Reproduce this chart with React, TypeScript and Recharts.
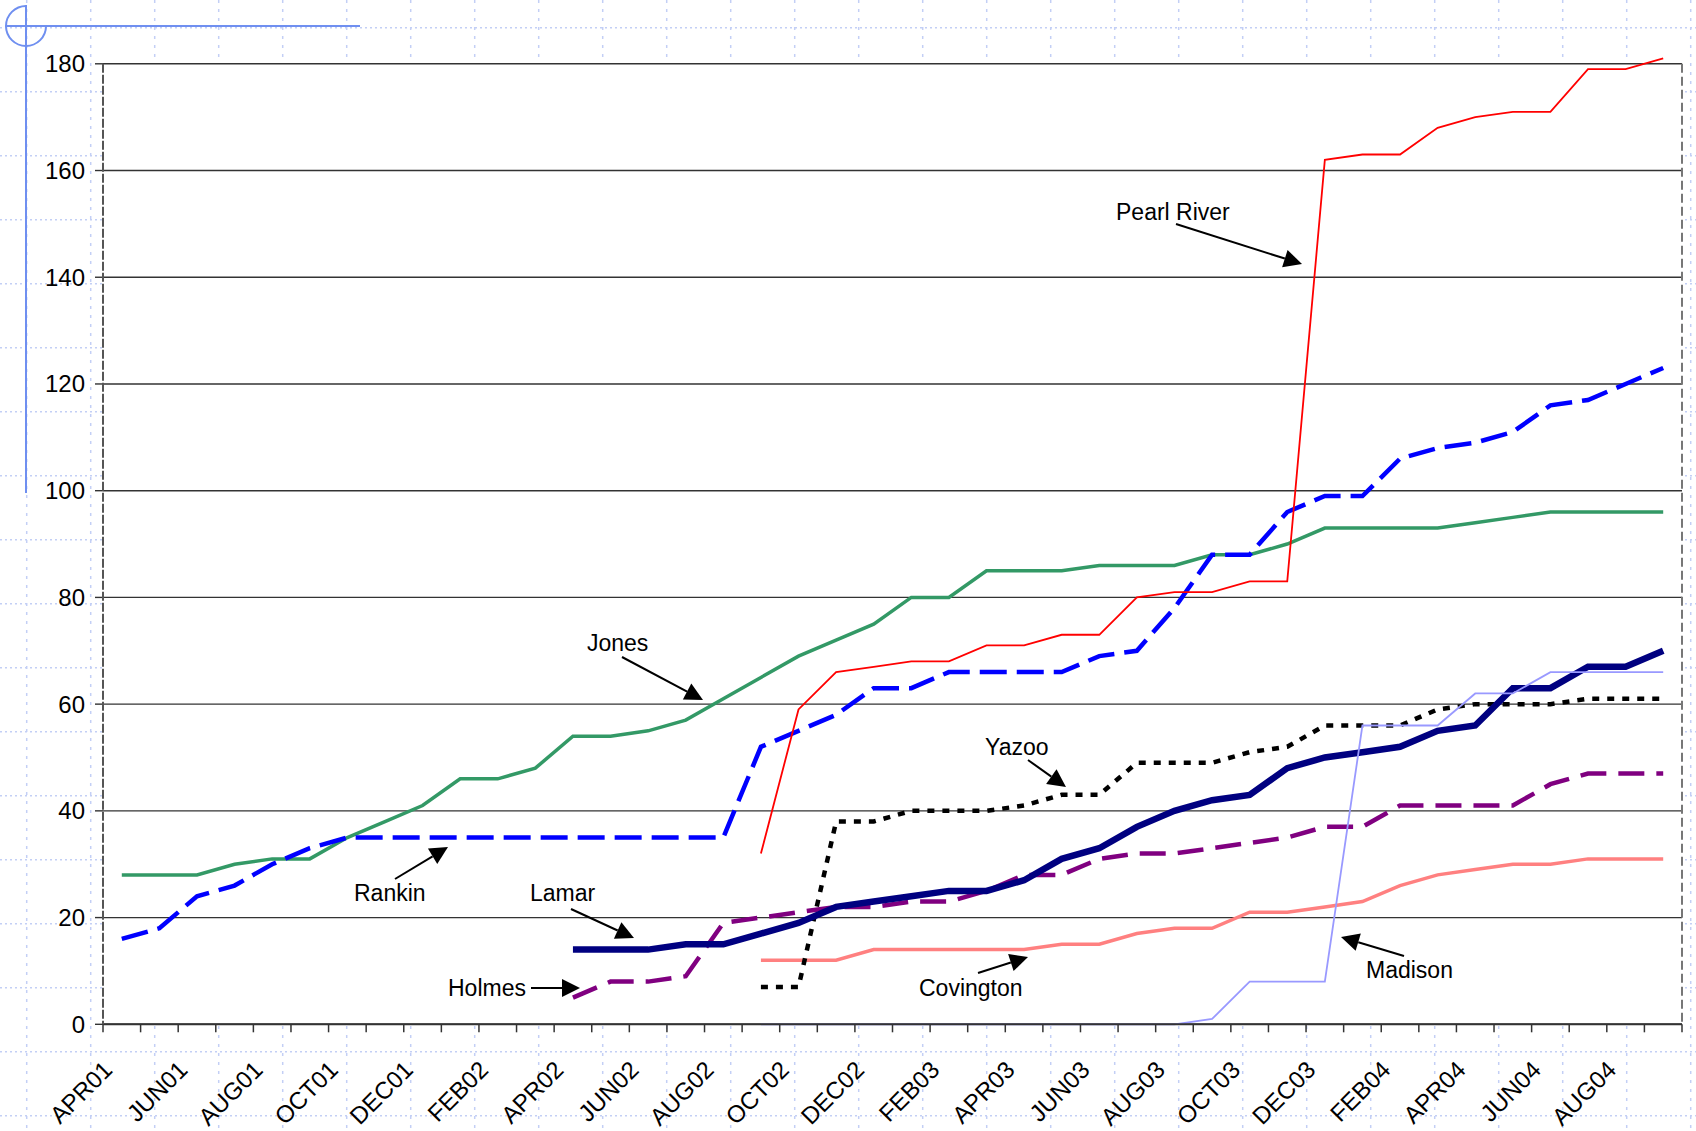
import { CartesianGrid, Line, LineChart, XAxis, YAxis } from "recharts";

const months = [
  "APR01", "MAY01", "JUN01", "JUL01", "AUG01", "SEP01", "OCT01", "NOV01", "DEC01",
  "JAN02", "FEB02", "MAR02", "APR02", "MAY02", "JUN02", "JUL02", "AUG02", "SEP02",
  "OCT02", "NOV02", "DEC02", "JAN03", "FEB03", "MAR03", "APR03", "MAY03", "JUN03",
  "JUL03", "AUG03", "SEP03", "OCT03", "NOV03", "DEC03", "JAN04", "FEB04", "MAR04",
  "APR04", "MAY04", "JUN04", "JUL04", "AUG04", "SEP04",
];

// series start at the month given
const jones = [28, 28, 28, 30, 31, 31, 35, 38, 41, 46, 46, 48, 54, 54, 55, 57, 61, 65, 69, 72, 75, 80, 80, 85, 85, 85, 86, 86, 86, 88, 88, 90, 93, 93, 93, 93, 94, 95, 96, 96, 96, 96];
const rankin = [16, 18, 24, 26, 30, 33, 35, 35, 35, 35, 35, 35, 35, 35, 35, 35, 35, 52, 55, 58, 63, 63, 66, 66, 66, 66, 69, 70, 78, 88, 88, 96, 99, 99, 106, 108, 109, 111, 116, 117, 120, 123];
const pearlRiver = [32, 59, 66, 67, 68, 68, 71, 71, 73, 73, 80, 81, 81, 83, 83, 162, 163, 163, 168, 170, 171, 171, 179, 179, 181];
const lamar = [14, 14, 14, 15, 15, 17, 19, 22, 23, 24, 25, 25, 27, 31, 33, 37, 40, 42, 43, 48, 50, 51, 52, 55, 56, 63, 63, 67, 67, 70];
const holmes = [5, 8, 8, 9, 19, 20, 21, 22, 22, 23, 23, 25, 28, 28, 31, 32, 32, 33, 34, 35, 37, 37, 41, 41, 41, 41, 45, 47, 47, 47];
const yazoo = [7, 7, 38, 38, 40, 40, 40, 41, 43, 43, 49, 49, 49, 51, 52, 56, 56, 56, 59, 60, 60, 60, 61, 61, 61];
const covington = [12, 12, 12, 14, 14, 14, 14, 14, 15, 15, 17, 18, 18, 21, 21, 22, 23, 26, 28, 29, 30, 30, 31, 31, 31];
const madison = [0, 0, 0, 0, 0, 0, 0, 0, 0, 0, 0, 0, 1, 8, 8, 8, 56, 56, 56, 62, 62, 66, 66, 66, 66];

const yTicks = [0, 20, 40, 60, 80, 100, 120, 140, 160, 180];

const series = [
  { name: "Jones", start: "APR01", values: jones, color: "#339966", width: 3.5 },
  { name: "Rankin", start: "APR01", values: rankin, color: "#0000ff", width: 4.5, dash: "27 10" },
  { name: "Pearl River", start: "SEP02", values: pearlRiver, color: "#ff0000", width: 1.8 },
  { name: "Holmes", start: "APR02", values: holmes, color: "#800080", width: 4.5, dash: "26 12" },
  { name: "Covington", start: "SEP02", values: covington, color: "#ff8080", width: 3.5 },
  { name: "Yazoo", start: "SEP02", values: yazoo, color: "#000000", width: 4.5, dash: "7 8" },
  { name: "Lamar", start: "APR02", values: lamar, color: "#000080", width: 6.5 },
  { name: "Madison", start: "SEP02", values: madison, color: "#9999ff", width: 1.8 },
];

const data = months.map((month, i) => {
  const row: Record<string, string | number | null> = { month };
  for (const s of series) {
    const k = i - months.indexOf(s.start);
    row[s.name] = k >= 0 && k < s.values.length ? s.values[k] : null;
  }
  return row;
});

const W = 1696;
const H = 1131;
const PLOT_LEFT = 103;
const PLOT_RIGHT = 1682;
const Y0 = 1024.3;
const Y180 = 63.8;
const pxPerUnit = (Y0 - Y180) / 180;
const yMax = Math.max(180, ...series.flatMap((s) => s.values));
const TOP = Y180 - (yMax - 180) * pxPerUnit;
const slot = (PLOT_RIGHT - PLOT_LEFT) / months.length;
const FONT = "'Liberation Sans', Arial, sans-serif";

function MonthTick(props: any) {
  const { x, index, payload } = props;
  const bx = x - slot / 2;
  const last = index === months.length - 1;
  const tx = x - 8;
  const ty = Y0 + 47;
  return (
    <g>
      <line x1={bx} x2={bx} y1={Y0} y2={Y0 + 8} stroke="#333" strokeWidth={1.5} />
      {index === 0 && (
        <line x1={bx} x2={bx} y1={Y180} y2={Y0} stroke="#555" strokeWidth={2} strokeDasharray="9 2" />
      )}
      {last && (
        <>
          <line x1={x + slot / 2} x2={x + slot / 2} y1={Y0} y2={Y0 + 8} stroke="#333" strokeWidth={1.5} />
          <line x1={x + slot / 2} x2={x + slot / 2} y1={Y180} y2={Y0} stroke="#777" strokeWidth={2} strokeDasharray="9 4" />
        </>
      )}
      {index % 2 === 0 && (
        <text
          x={tx}
          y={ty}
          transform={`rotate(-45 ${tx} ${ty})`}
          textAnchor="end"
          fontSize={24}
          fontFamily={FONT}
          fill="#000"
        >
          {payload.value}
        </text>
      )}
    </g>
  );
}

const notes = [
  { text: "Pearl River", tx: 1116, ty: 220, a: [1176, 224], b: [1302, 264] },
  { text: "Jones", tx: 587, ty: 651, a: [622, 657], b: [703, 700] },
  { text: "Rankin", tx: 354, ty: 901, a: [395, 879], b: [448, 847] },
  { text: "Lamar", tx: 530, ty: 901, a: [571, 909], b: [634, 938] },
  { text: "Holmes", tx: 448, ty: 996, a: [531, 988], b: [580, 988] },
  { text: "Yazoo", tx: 985, ty: 755, a: [1028, 760], b: [1066, 787] },
  { text: "Covington", tx: 919, ty: 996, a: [978, 973], b: [1028, 957] },
  { text: "Madison", tx: 1366, ty: 978, a: [1404, 956], b: [1341, 937] },
];

function Arrow({ a, b }: { a: number[]; b: number[] }) {
  const dx = b[0] - a[0];
  const dy = b[1] - a[1];
  const len = Math.hypot(dx, dy);
  const ux = dx / len;
  const uy = dy / len;
  const L = 18;
  const hw = 9;
  const cx = b[0] - ux * L;
  const cy = b[1] - uy * L;
  const p1 = `${cx - uy * hw},${cy + ux * hw}`;
  const p2 = `${cx + uy * hw},${cy - ux * hw}`;
  return (
    <g>
      <line x1={a[0]} y1={a[1]} x2={cx} y2={cy} stroke="#000" strokeWidth={2} />
      <polygon points={`${b[0]},${b[1]} ${p1} ${p2}`} fill="#000" />
    </g>
  );
}

function Backdrop() {
  const hs = Array.from({ length: 18 }, (_, k) => 27.7 + 64 * k);
  const vs = Array.from({ length: 27 }, (_, k) => 26.7 + 64 * k);
  return (
    <svg width={W} height={H} style={{ position: "absolute", left: 0, top: 0 }}>
      {hs.map((y) => (
        <line key={"h" + y} x1={0} x2={W} y1={y} y2={y} stroke="#c3cff5" strokeWidth={1.5} strokeDasharray="2 3" />
      ))}
      {vs.map((x) => (
        <line key={"v" + x} x1={x} x2={x} y1={0} y2={H} stroke="#c3cff5" strokeWidth={1.5} strokeDasharray="3 6" />
      ))}
      <line x1={5} x2={360} y1={26} y2={26} stroke="#6f8ff0" strokeWidth={2} />
      <line x1={26} x2={26} y1={5} y2={493} stroke="#6f8ff0" strokeWidth={2} />
      <path d="M 46 26 A 20 20 0 1 1 26 6" fill="none" stroke="#6f8ff0" strokeWidth={2} />
    </svg>
  );
}

export default function App() {
  return (
    <div style={{ position: "relative", width: W, height: H, background: "#fff", overflow: "hidden" }}>
      <style>{"body{margin:0}"}</style>
      <Backdrop />
      <div style={{ position: "absolute", left: 0, top: 0 }}>
        <LineChart
          width={W}
          height={H}
          data={data}
          margin={{ top: TOP, right: W - PLOT_RIGHT, bottom: 0, left: 0 }}
        >
          <CartesianGrid horizontal={false} vertical={false} stroke="none" fill="#fff" fillOpacity={1} />
          <CartesianGrid vertical={false} syncWithTicks stroke="#333" strokeWidth={1.4} />
          <XAxis
            dataKey="month"
            type="category"
            interval={0}
            height={H - Y0}
            padding={{ left: slot / 2, right: slot / 2 }}
            tickLine={false}
            axisLine={{ stroke: "#333", strokeWidth: 2 }}
            tick={<MonthTick />}
          />
          <YAxis
            type="number"
            domain={[0, yMax]}
            ticks={yTicks}
            interval={0}
            width={PLOT_LEFT}
            tickSize={8}
            tickMargin={10}
            axisLine={false}
            tickLine={{ stroke: "#333", strokeWidth: 1.4 }}
            tick={{ fill: "#000", fontSize: 24, fontFamily: FONT }}
          />
          {series.map((s) => (
            <Line
              key={s.name}
              dataKey={s.name}
              type="linear"
              stroke={s.color}
              strokeWidth={s.width}
              strokeDasharray={s.dash}
              dot={false}
              activeDot={false}
              connectNulls={false}
              isAnimationActive={false}
            />
          ))}
        </LineChart>
      </div>
      <svg width={W} height={H} style={{ position: "absolute", left: 0, top: 0, pointerEvents: "none" }}>
        {notes.map((n) => (
          <g key={n.text}>
            <text x={n.tx} y={n.ty} fontSize={23} fontFamily={FONT} fill="#000">
              {n.text}
            </text>
            <Arrow a={n.a} b={n.b} />
          </g>
        ))}
      </svg>
    </div>
  );
}
